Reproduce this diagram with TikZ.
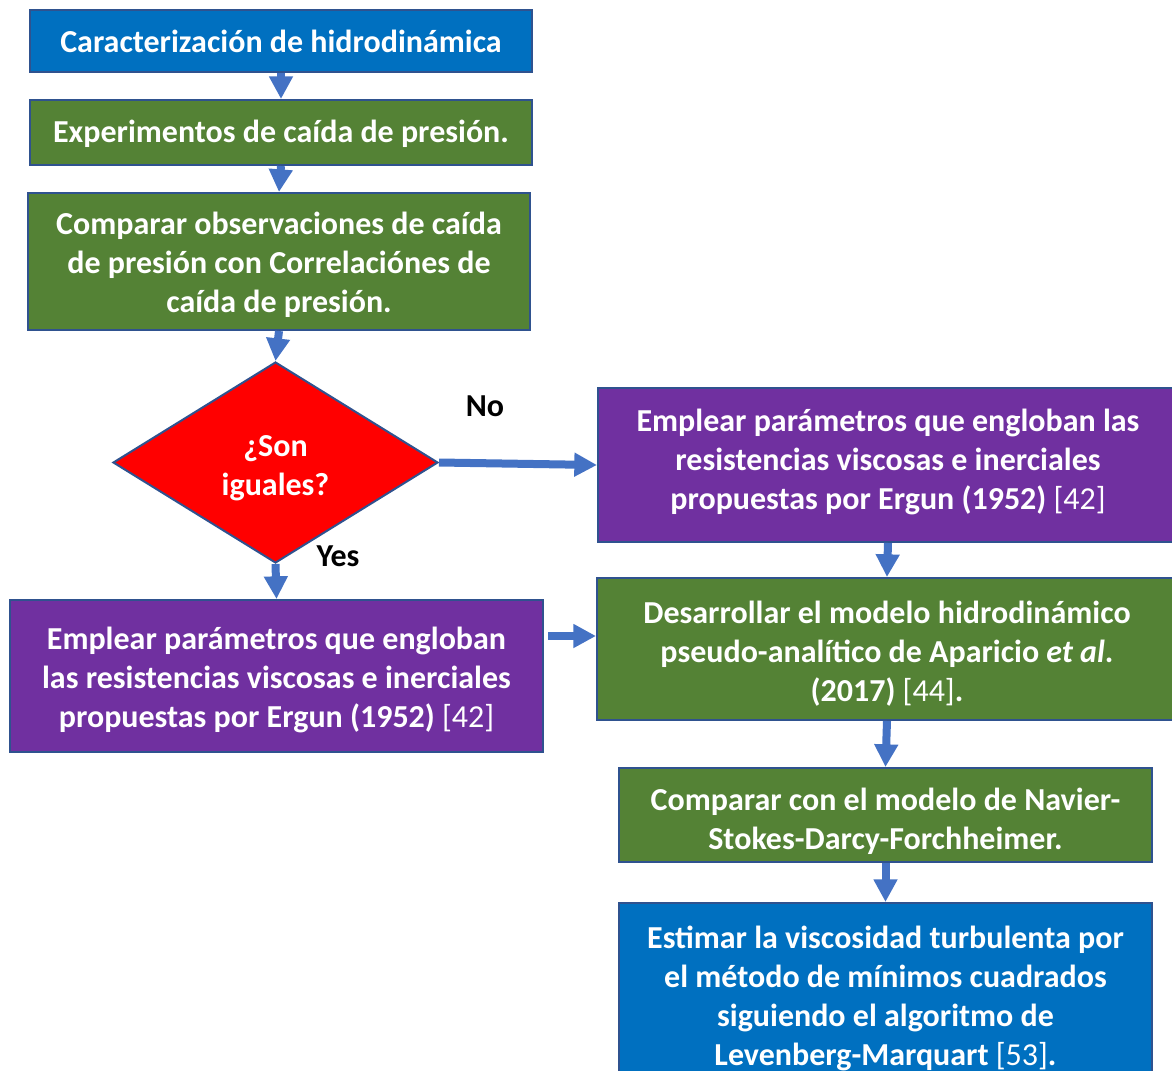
\documentclass[tikz,border=0pt]{standalone}
\usepackage{fontspec}
\setmainfont{Carlito}
\usetikzlibrary{arrows.meta,shapes.geometric}
\definecolor{cblue}{HTML}{0070C0}
\definecolor{cgreen}{HTML}{548235}
\definecolor{cpurple}{HTML}{7030A0}
\definecolor{cred}{HTML}{FF0000}
\definecolor{cborder}{HTML}{2F528F}
\definecolor{carrow}{HTML}{4472C4}
\newcommand\btext[2]{\raisebox{-#1}[\height][\depth]{\begin{tabular}{@{}c@{}}#2\end{tabular}}}
\begin{document}
\begin{tikzpicture}[x=0.75pt,y=-0.75pt,
  txt/.style={font=\fontsize{24}{29.3}\selectfont\bfseries},
  box/.style={txt,draw=cborder,line width=1.5pt,text=white,align=center,inner sep=0pt},
  arr/.style={draw=carrow,line width=6pt,-{Triangle[width=17pt,length=17pt]}},
  lbl/.style={txt,text=black,inner sep=0pt}]
\useasboundingbox (0,0) rectangle (1172,1071);
\clip (0,0) rectangle (1172,1071);
\node[box,fill=cblue,minimum width=376.5pt,minimum height=46.5pt] (b1) at (281,41) {\btext{3pt}{Caracterización de hidrodinámica}};
\node[box,fill=cgreen,minimum width=376.5pt,minimum height=48.75pt] (b2) at (281,132.5) {\btext{1.5pt}{Experimentos de caída de presión.}};
\node[box,fill=cgreen,minimum width=376.5pt,minimum height=102.75pt] (b3) at (279,261.5) {\btext{3pt}{Comparar observaciones de caída\\de presión con Correlaciónes de\\caída de presión.}};
\node[box,shape=diamond,fill=cred,minimum width=243.75pt,minimum height=150.75pt] (dia) at (275.5,462.5) {\btext{4.5pt}{¿Son\\iguales?}};
\node[box,fill=cpurple,minimum width=435pt,minimum height=115.5pt] (p5) at (888,465) {\btext{-1.5pt}{Emplear parámetros que engloban las\\resistencias viscosas e inerciales\\propuestas por Ergun (1952) {\mdseries [42]}}};
\node[box,fill=cgreen,minimum width=435pt,minimum height=106.5pt] (p6) at (887,649) {\btext{4.1pt}{Desarrollar el modelo hidrodinámico\\pseudo-analítico de Aparicio \textit{et al}.\\(2017) {\mdseries [44]}.}};
\node[box,fill=cgreen,minimum width=399.75pt,minimum height=70.5pt] (b7) at (885.5,815) {\btext{5.25pt}{Comparar con el modelo de Navier-\\Stokes-Darcy-Forchheimer.}};
\node[box,fill=cblue,minimum width=399.75pt,minimum height=144pt] (b8) at (885.5,999) {\btext{0pt}{Estimar la viscosidad turbulenta por\\el método de mínimos cuadrados\\siguiendo el algoritmo de\\Levenberg-Marquart {\mdseries [53]}.}};
\node[box,fill=cpurple,minimum width=399.75pt,minimum height=114pt] (p9) at (276.5,676) {\btext{3.75pt}{Emplear parámetros que engloban\\las resistencias viscosas e inerciales\\propuestas por Ergun (1952) {\mdseries [42]}}};
\node[lbl] (no) at (485,406) {No};
\node[lbl] (yes) at (338,556) {Yes};
\coordinate (c1) at (548,636);
\draw[arr] (b1.south) -- (b2.north);
\draw[arr] (b2.south) -- (b3.north);
\draw[arr] (b3.south) -- (dia.north);
\draw[arr] (dia.east) -- (p5.west);
\draw[arr] (dia.south) -- (p9.north);
\draw[arr] (p5.south) -- (p6.north);
\draw[arr] (c1) -- (p6.west |- c1);
\draw[arr] (p6.south) -- (b7.north);
\draw[arr] (b7.south) -- (b8.north);
\end{tikzpicture}
\end{document}
